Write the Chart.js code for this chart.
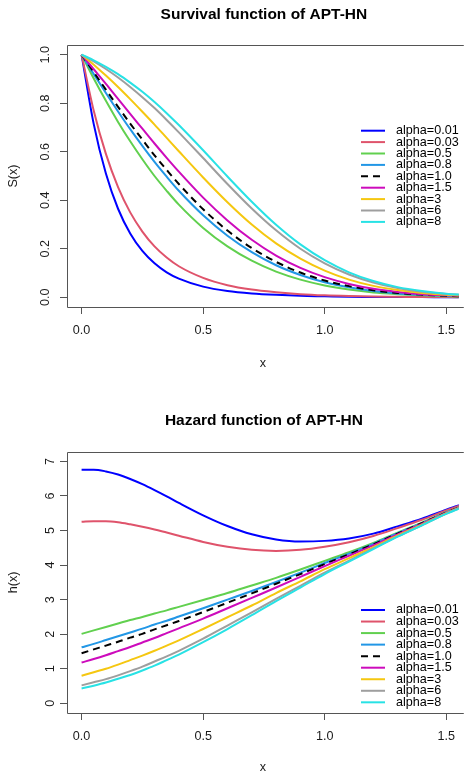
<!DOCTYPE html>
<html>
<head>
<meta charset="utf-8">
<title>Survival and hazard function of APT-HN</title>
<script src="https://cdn.jsdelivr.net/npm/chart.js@4.4.1/dist/chart.umd.min.js"></script>
<style>
  html, body { margin: 0; padding: 0; background: #fff; }
  #wrap { position: relative; width: 464px; height: 774px; overflow: hidden; }
  #wrap canvas { position: absolute; left: 0; }
  #survival { top: 0; }
  #hazard { top: 390px; }
</style>
</head>
<body>
<div id="wrap">
  <canvas id="survival" width="464" height="390"></canvas>
  <canvas id="hazard" width="464" height="384"></canvas>
</div>
<script>
// points along x where the curves were read
const xs = [0, 0.05, 0.1, 0.15, 0.2, 0.25, 0.3, 0.35, 0.4, 0.5, 0.6, 0.7, 0.8, 0.9, 1.0, 1.1, 1.2, 1.3, 1.4, 1.5, 1.6];

const alphaLabels = ['alpha=0.01', 'alpha=0.03', 'alpha=0.5', 'alpha=0.8', 'alpha=1.0', 'alpha=1.5', 'alpha=3', 'alpha=6', 'alpha=8'];

// survival S(x)
const sA001 = [1.0, 0.714, 0.510, 0.365, 0.263, 0.191, 0.140, 0.103, 0.077, 0.044, 0.026, 0.016, 0.010, 0.006, 0.004, 0.002, 0.001, 0.001, 0.001, 0.0, 0.0];
const sA003 = [1.0, 0.769, 0.591, 0.454, 0.350, 0.271, 0.210, 0.164, 0.128, 0.080, 0.050, 0.032, 0.021, 0.013, 0.008, 0.005, 0.003, 0.002, 0.001, 0.001, 0.0];
const sA05  = [1.0, 0.902, 0.810, 0.723, 0.643, 0.569, 0.500, 0.439, 0.382, 0.286, 0.210, 0.151, 0.106, 0.073, 0.049, 0.032, 0.020, 0.013, 0.008, 0.004, 0.003];
const sA08  = [1.0, 0.920, 0.842, 0.766, 0.693, 0.624, 0.558, 0.497, 0.439, 0.338, 0.254, 0.186, 0.132, 0.092, 0.062, 0.041, 0.026, 0.016, 0.010, 0.006, 0.003];
const sA10  = [1.0, 0.928, 0.856, 0.785, 0.716, 0.650, 0.585, 0.525, 0.467, 0.363, 0.275, 0.203, 0.146, 0.102, 0.069, 0.046, 0.029, 0.018, 0.011, 0.006, 0.004];
const sA15  = [1.0, 0.940, 0.880, 0.818, 0.756, 0.695, 0.634, 0.575, 0.518, 0.411, 0.317, 0.237, 0.172, 0.121, 0.083, 0.055, 0.035, 0.022, 0.013, 0.008, 0.004];
const sA3   = [1.0, 0.959, 0.914, 0.867, 0.817, 0.765, 0.712, 0.657, 0.602, 0.494, 0.392, 0.300, 0.222, 0.159, 0.110, 0.073, 0.047, 0.030, 0.018, 0.010, 0.006];
const sA6   = [1.0, 0.972, 0.941, 0.906, 0.867, 0.825, 0.780, 0.731, 0.680, 0.574, 0.467, 0.366, 0.276, 0.200, 0.140, 0.094, 0.061, 0.038, 0.023, 0.014, 0.008];
const sA8   = [1.0, 0.977, 0.950, 0.920, 0.885, 0.847, 0.805, 0.759, 0.710, 0.606, 0.498, 0.394, 0.299, 0.218, 0.153, 0.103, 0.067, 0.042, 0.026, 0.015, 0.009];

// hazard h(x)
const hA001 = [6.76, 6.76, 6.71, 6.62, 6.49, 6.34, 6.17, 5.99, 5.80, 5.44, 5.13, 4.89, 4.74, 4.68, 4.70, 4.77, 4.91, 5.12, 5.34, 5.60, 5.84];
const hA003 = [5.25, 5.27, 5.27, 5.24, 5.18, 5.11, 5.03, 4.94, 4.85, 4.67, 4.53, 4.44, 4.41, 4.44, 4.53, 4.66, 4.84, 5.07, 5.31, 5.58, 5.83];
const hA05  = [2.01, 2.11, 2.21, 2.31, 2.41, 2.50, 2.60, 2.69, 2.79, 2.99, 3.19, 3.41, 3.63, 3.87, 4.12, 4.37, 4.64, 4.94, 5.23, 5.53, 5.80];
const hA08  = [1.62, 1.72, 1.83, 1.94, 2.05, 2.16, 2.28, 2.39, 2.51, 2.75, 3.00, 3.25, 3.51, 3.78, 4.06, 4.33, 4.61, 4.92, 5.21, 5.52, 5.79];
const hA10  = [1.45, 1.56, 1.67, 1.78, 1.90, 2.01, 2.14, 2.26, 2.38, 2.64, 2.91, 3.18, 3.46, 3.74, 4.03, 4.31, 4.60, 4.91, 5.21, 5.52, 5.79];
const hA15  = [1.18, 1.28, 1.39, 1.51, 1.63, 1.76, 1.89, 2.03, 2.17, 2.45, 2.75, 3.05, 3.35, 3.66, 3.97, 4.27, 4.57, 4.89, 5.19, 5.51, 5.79];
const hA3   = [0.80, 0.90, 1.00, 1.12, 1.25, 1.38, 1.52, 1.67, 1.82, 2.15, 2.49, 2.83, 3.19, 3.53, 3.88, 4.20, 4.52, 4.86, 5.17, 5.50, 5.78];
const hA6   = [0.52, 0.61, 0.70, 0.81, 0.93, 1.06, 1.21, 1.36, 1.52, 1.87, 2.25, 2.63, 3.02, 3.40, 3.78, 4.13, 4.48, 4.83, 5.15, 5.49, 5.77];
const hA8   = [0.43, 0.51, 0.60, 0.71, 0.82, 0.95, 1.09, 1.25, 1.41, 1.77, 2.15, 2.55, 2.96, 3.35, 3.74, 4.10, 4.46, 4.82, 5.15, 5.48, 5.77];

const xTicks = [0, 0.5, 1.0, 1.5];
const sTicks = [0, 0.2, 0.4, 0.6, 0.8, 1.0];
const hTicks = [0, 1, 2, 3, 4, 5, 6, 7];

// R palette colours, alpha=1.0 is the dashed black one
const lineColors = ['#0000FF', '#DF536B', '#61D04F', '#2297E6', '#000000', '#CD0BBC', '#F5C710', '#9E9E9E', '#28E2E5'];
const lineDashes = [[], [], [], [], [7, 5], [], [], [], []];

const FONT = "'Liberation Sans', Arial, Helvetica, sans-serif";
Chart.defaults.font.family = FONT;
Chart.defaults.font.size = 12.6;
Chart.defaults.color = '#1a1a1a';
Chart.defaults.animation = false;

// plot box on three sides (the right one is cut off in the picture)
const framePlugin = {
    id: 'frame',
    afterDatasetsDraw(chart) {
        const {ctx, chartArea: a} = chart;
        ctx.save();
        ctx.strokeStyle = '#555';
        ctx.lineWidth = 1;
        ctx.beginPath();
        ctx.moveTo(a.right + 5, Math.round(a.top) + 0.5);
        ctx.lineTo(Math.round(a.left) + 0.5, Math.round(a.top) + 0.5);
        ctx.lineTo(Math.round(a.left) + 0.5, Math.round(a.bottom) + 0.5);
        ctx.lineTo(a.right + 5, Math.round(a.bottom) + 0.5);
        ctx.stroke();
        ctx.restore();
    }
};

// main title centred over the R plot region
const titlePlugin = {
    id: 'rTitle',
    afterDraw(chart, args, opts) {
        const ctx = chart.ctx;
        const x = chart.scales.x.getPixelForValue(opts.center);
        ctx.save();
        ctx.font = 'bold 15.5px ' + FONT;
        ctx.fillStyle = '#000';
        ctx.textAlign = 'center';
        ctx.textBaseline = 'middle';
        ctx.fillText(opts.text, x, opts.y);
        ctx.restore();
    }
};

// legend inside the plot, R style (line sample then text)
const legendPlugin = {
    id: 'rLegend',
    afterDatasetsDraw(chart, args, opts) {
        const {ctx, chartArea: a} = chart;
        ctx.save();
        ctx.font = '12.6px ' + FONT;
        ctx.textAlign = 'left';
        ctx.textBaseline = 'middle';
        chart.data.datasets.forEach((ds, i) => {
            const y = a.top + opts.top + i * opts.step;
            const x0 = a.left + opts.left;
            ctx.strokeStyle = ds.borderColor;
            ctx.lineWidth = 2;
            ctx.setLineDash(ds.borderDash || []);
            ctx.beginPath();
            ctx.moveTo(x0, y);
            ctx.lineTo(x0 + 24, y);
            ctx.stroke();
            ctx.setLineDash([]);
            ctx.fillStyle = '#000';
            ctx.fillText(ds.label, x0 + 35, y);
        });
        ctx.restore();
    }
};

function buildDatasets(series) {
    return series.map((values, i) => ({
        label: alphaLabels[i],
        data: xs.map((x, k) => ({x: x, y: values[k]})),
        borderColor: lineColors[i],
        borderDash: lineDashes[i],
        borderWidth: 2,
        pointRadius: 0,
        cubicInterpolationMode: 'monotone',
        fill: false,
        order: series.length - i
    }));
}

function drawPanel(canvasId, series, cfg) {
    new Chart(document.getElementById(canvasId), {
        type: 'line',
        data: {datasets: buildDatasets(series)},
        plugins: [framePlugin, titlePlugin, legendPlugin],
        options: {
            responsive: false,
            devicePixelRatio: 1,
            layout: {padding: {left: 0, right: 0, top: cfg.top, bottom: 0}},
            plugins: {
                legend: {display: false},
                tooltip: {enabled: false},
                rTitle: {text: cfg.title, y: cfg.titleY, center: 0.75},
                rLegend: {left: 294, top: cfg.legendTop, step: cfg.legendStep}
            },
            scales: {
                x: {
                    type: 'linear',
                    min: -0.06,
                    max: 1.5516,
                    afterBuildTicks: axis => { axis.ticks = xTicks.map(v => ({value: v})); },
                    afterFit: axis => { axis.height = cfg.xAxisHeight; },
                    grid: {drawOnChartArea: false, drawTicks: true, tickLength: 7, color: '#555'},
                    border: {display: false},
                    ticks: {padding: 9, maxRotation: 0, autoSkip: false, callback: v => v.toFixed(1)},
                    title: {display: true, text: 'x', font: {size: 12.6, lineHeight: 1}, padding: {top: 0, bottom: cfg.xTitlePad}}
                },
                y: {
                    type: 'linear',
                    min: cfg.yMin,
                    max: cfg.yMax,
                    afterBuildTicks: axis => { axis.ticks = cfg.yTicks.map(v => ({value: v})); },
                    afterFit: axis => { axis.width = 67; },
                    grid: {drawOnChartArea: false, drawTicks: true, tickLength: 7, color: '#555'},
                    border: {display: false},
                    ticks: {minRotation: 90, maxRotation: 90, crossAlign: 'center', padding: 6, autoSkip: false, callback: cfg.yFormat},
                    title: {display: true, text: cfg.yTitle, font: {size: 12.6, lineHeight: 1}, padding: {top: 7.7, bottom: 0}}
                }
            }
        }
    });
}

drawPanel('survival', [sA001, sA003, sA05, sA08, sA10, sA15, sA3, sA6, sA8], {
    title: 'Survival function of APT-HN',
    titleY: 15,
    top: 45,
    xAxisHeight: 83,
    xTitlePad: 20,
    yMin: -0.04,
    yMax: 1.04,
    yTicks: sTicks,
    yFormat: v => v.toFixed(1),
    yTitle: 'S(x)',
    legendTop: 85.7,
    legendStep: 11.4
});

drawPanel('hazard', [hA001, hA003, hA05, hA08, hA10, hA15, hA3, hA6, hA8], {
    title: 'Hazard function of APT-HN',
    titleY: 30.7,
    top: 61.7,
    xAxisHeight: 61,
    xTitlePad: 0,
    yMin: -0.28,
    yMax: 7.28,
    yTicks: hTicks,
    yFormat: v => String(v),
    yTitle: 'h(x)',
    legendTop: 158.3,
    legendStep: 11.54
});
</script>
</body>
</html>
